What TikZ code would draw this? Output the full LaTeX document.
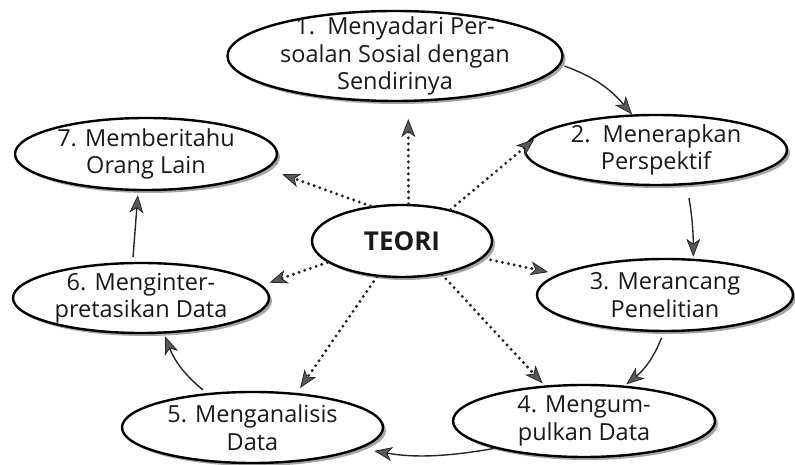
\documentclass[tikz,border=0pt]{standalone}
\usepackage{fontspec}
\setmainfont{Open Sans}
\usetikzlibrary{shapes.geometric,arrows.meta,shadows}
\begin{document}
\begin{tikzpicture}[x=1pt,y=1pt,
  bub/.style={ellipse,draw=black,line width=2.4pt,fill=white,inner sep=0pt,
    drop shadow={shadow xshift=3pt,shadow yshift=-3pt,fill=black!35,opacity=1}},
  txt/.style={align=center,font=\fontsize{23.5}{27.5}\selectfont,text=black!90,inner sep=0pt},
  tip/.style={-{Stealth[length=18pt,width=14pt,inset=5pt,line width=0.8pt,fill=black!65]}},
  flow/.style={tip,line width=1.4pt,draw=black!85},
  dots/.style={tip,line width=3.3pt,dash pattern=on 0pt off 6pt,line cap=round,draw=black!85}]
\useasboundingbox (0,0) rectangle (795,465);

\node[bub,minimum width=335pt,minimum height=90pt] (e1) at (395,409) {};
\node[bub,minimum width=262pt,minimum height=70pt] (e2) at (656,315) {};
\node[bub,minimum width=256pt,minimum height=72pt] (e3) at (665,170) {};
\node[bub,minimum width=262pt,minimum height=72pt] (e4) at (584,44) {};
\node[bub,minimum width=261pt,minimum height=71pt] (e5) at (252.5,37.5) {};
\node[bub,minimum width=256pt,minimum height=70pt] (e6) at (141,167) {};
\node[bub,minimum width=262pt,minimum height=72pt] (e7) at (146,311) {};
\node[bub,minimum width=180pt,minimum height=72pt] (eT) at (402,224) {};

\node[txt] (t1) at (e1) {1.\ \ Menyadari Per-\\soalan Sosial dengan\\Sendirinya};
\node[txt] (t2) at (e2) {2.\ \ Menerapkan\\Perspektif};
\node[txt] (t3) at (e3) {3. Merancang\\Penelitian};
\node[txt] (t4) at (e4) {4. Mengum-\\pulkan Data};
\node[txt] (t5) at (e5) {5. Menganalisis\\Data};
\node[txt] (t6) at (e6) {6. Menginter-\\pretasikan Data};
\node[txt] (t7) at (e7) {7. Memberitahu\\Orang Lain};
\node[txt,font=\fontsize{26}{28}\bfseries\selectfont] (tT) at (eT) {TEORI};

% dotted connectors from TEORI
\draw[dots,shorten >=17pt] (eT.80) -- (e1.-74);
\draw[dots,shorten >=14pt] (eT.33) -- (e2.170);
\draw[dots,shorten <=8pt,shorten >=10pt] (eT.-12) -- (e3.169);
\draw[dots,shorten >=3pt] (eT.-40) -- (e4.138.6);
\draw[dots,shorten >=6pt] (eT.235) -- (e5.38.7);
\draw[dots,shorten >=8pt] (eT.196) -- (e6.6);
\draw[dots,shorten >=16pt] (eT.132) -- (e7.-7.5);

% solid cycle
\draw[flow,shorten <=4pt] (e1.-3) to[bend left=15] (e2.124);
\draw[flow,shorten <=13pt,shorten >=2pt] (e2.-49) to[bend left=5] (e3.52);
\draw[flow,shorten <=6pt,shorten >=2pt] (e3.-92) to[bend left=15] (e4.41);
\draw[flow,shorten >=14pt] (e4.197) to[bend left=10] (e5.-11.5);
\draw[flow,shorten <=5pt,shorten >=3pt] (e5.143) to[bend left=15] (e6.-57.5);
\draw[flow,shorten <=5pt,shorten >=4pt] (e6.103) -- (e7.-102.5);
\end{tikzpicture}
\end{document}
